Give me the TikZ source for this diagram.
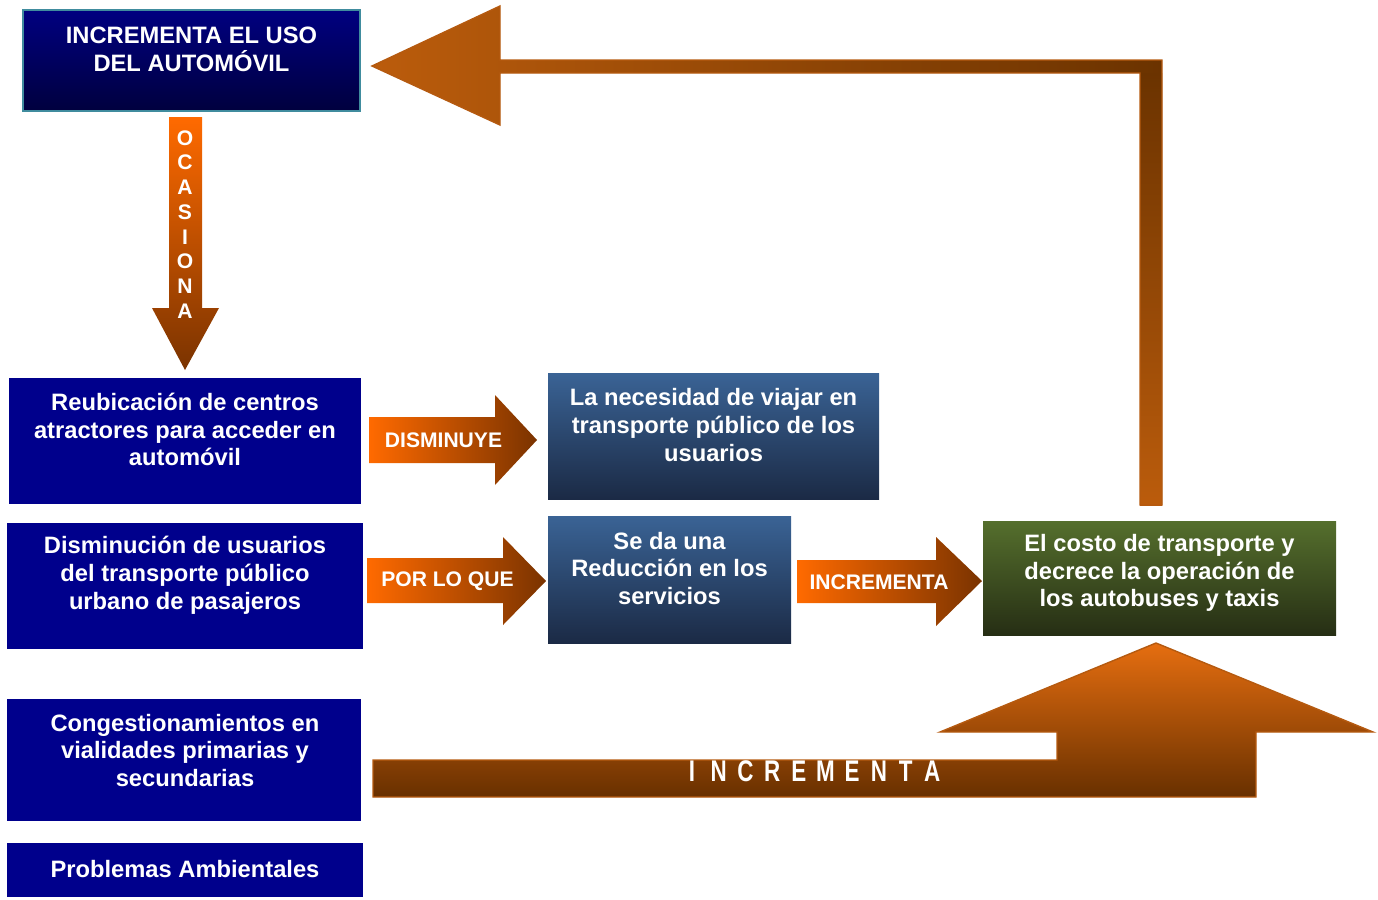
\documentclass[tikz,border=0pt]{standalone}
\usepackage{fontspec}
\setmainfont{Liberation Sans}
\usetikzlibrary{positioning}
\definecolor{navy}{RGB}{0,0,140}
\definecolor{navytop}{RGB}{0,0,128}
\definecolor{navybot}{RGB}{0,0,62}
\definecolor{tealedge}{RGB}{64,140,158}
\definecolor{steeltop}{RGB}{58,99,149}
\definecolor{steelbot}{RGB}{27,42,69}
\definecolor{olivetop}{RGB}{85,111,45}
\definecolor{olivebot}{RGB}{38,46,20}
\definecolor{arrowlight}{RGB}{255,106,0}
\definecolor{arrowdark}{RGB}{122,51,0}
\definecolor{rustlight}{RGB}{187,92,12}
\definecolor{rustdark}{RGB}{107,51,0}
\definecolor{rustedge}{RGB}{181,90,16}
\definecolor{bigtop}{RGB}{230,110,16}
\definecolor{bigmid}{RGB}{172,80,2}
\definecolor{bigbot}{RGB}{104,48,0}
\tikzset{
  boxtext/.style={text=white, font=\bfseries\fontsize{13.5}{15.8}\selectfont, align=center, inner sep=0pt},
  arrowtext/.style={text=white, font=\bfseries\fontsize{12}{14}\selectfont, inner sep=0pt},
  orangearrow/.style={left color=arrowlight, right color=arrowdark},
}
\begin{document}
\begin{tikzpicture}[x=0.02cm, y=-0.02cm]
\useasboundingbox (0,0) rectangle (1378,899);
% left column
\shade[top color=navytop, bottom color=navybot, draw=tealedge, line width=1.2pt] (23,10) rectangle (360,111);
\node[boxtext] (uso) at (191.5,49) {INCREMENTA EL USO\\DEL AUTOMÓVIL};
\fill[navy] (9,378) rectangle (361,504);
\node[boxtext] (reubicacion) at (185,429.5) {Reubicación de centros\\atractores para acceder en\\automóvil};
\fill[navy] (7,523) rectangle (363,649);
\node[boxtext] (disminucion) at (185,575) {Disminución de usuarios\\del transporte público\\urbano de pasajeros};
\fill[navy] (7,699) rectangle (361,821);
\node[boxtext] (congestion) at (185,750.5) {Congestionamientos en\\vialidades primarias y\\secundarias};
\fill[navy] (7,843) rectangle (363,897);
\node[boxtext] (ambiental) at (185,869) {Problemas Ambientales};
% middle and right boxes
\shade[top color=steeltop, bottom color=steelbot] (548,373) rectangle (879,499);
\node[boxtext] (necesidad) at (713.5,425) {La necesidad de viajar en\\transporte público de los\\usuarios};
\shade[top color=steeltop, bottom color=steelbot] (548,516) rectangle (791,643);
\node[boxtext] (reduccion) at (669.5,568.5) {Se da una\\Reducción en los\\servicios};
\shade[top color=olivetop, bottom color=olivebot] (983,521) rectangle (1336,635);
\node[boxtext] (costo) at (1159.5,573) {El costo de transporte y\\decrece la operación de\\los autobuses y taxis};
% OCASIONA
\shade[top color=arrowlight, bottom color=arrowdark] (169,117) -- (202,117) -- (202,308) -- (219,308) -- (185,370) -- (152,308) -- (169,308) -- cycle;
\foreach \l [count=\i] in {O,C,A,S,I,O,N,A}
  \node[arrowtext] (ocasiona\i) at (185,{138+24.7*(\i-1)}) {\l};
% DISMINUYE
\shade[orangearrow] (369,417) -- (495,417) -- (495,395) -- (537,440) -- (495,485) -- (495,463) -- (369,463) -- cycle;
\node[arrowtext] (disminuye) at (443.5,440) {DISMINUYE};
% POR LO QUE
\shade[orangearrow] (367,558) -- (503,558) -- (503,537) -- (546,581) -- (503,625) -- (503,603) -- (367,603) -- cycle;
\node[arrowtext] (porloque) at (447.5,581) {POR LO QUE};
% INCREMENTA
\shade[orangearrow] (797,560) -- (936,560) -- (936,537) -- (982,581) -- (936,626) -- (936,603) -- (797,603) -- cycle;
\node[arrowtext] (incrementa) at (879,582) {INCREMENTA};
% return arrow
\shade[left color=rustlight, right color=rustdark] (372,66) -- (500,6) -- (500,60) -- (1162,60) -- (1162,505) -- (1140,505) -- (1140,73) -- (500,73) -- (500,125) -- cycle;
\shade[top color=rustdark, bottom color=rustlight] (1140,73) rectangle (1162,505);
\draw[rustedge, line width=0.8pt] (372,66) -- (500,6) -- (500,60) -- (1162,60) -- (1162,505) -- (1140,505) -- (1140,73) -- (500,73) -- (500,125) -- cycle;
% bottom arrow
\shade[top color=bigtop, middle color=bigmid, bottom color=bigbot, draw=rustedge, line width=0.8pt] (373,760) -- (1057,760) -- (1057,732) -- (940,732) -- (1156,643) -- (1373,732) -- (1256,732) -- (1256,797) -- (373,797) -- cycle;
\foreach \l [count=\i] in {I,N,C,R,E,M,E,N,T,A}
  \node[text=white, font=\bfseries\fontsize{17}{17}\selectfont, inner sep=0pt] (incr\i) at ({692+26.7*(\i-1)},771) {\scalebox{0.75}[1]{\l}};
\end{tikzpicture}
\end{document}
